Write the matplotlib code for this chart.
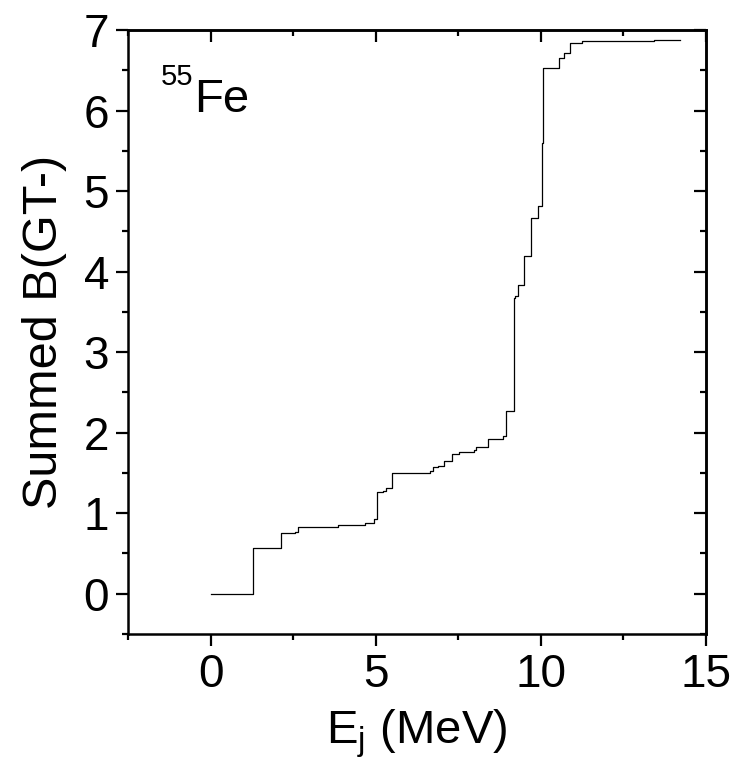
import matplotlib
matplotlib.use("Agg")
import matplotlib.pyplot as plt
from matplotlib.ticker import MultipleLocator

plt.rcParams['font.family'] = ['Liberation Sans', 'DejaVu Sans']

energy = [0, 1.27, 2.14, 2.56, 2.65, 3.85, 4.68, 4.96, 5.03, 5.21, 5.31, 5.48,
          5.85, 6.66, 6.75, 6.90, 7.07, 7.32, 7.52, 7.97, 8.05, 8.41, 8.87, 8.94,
          9.18, 9.23, 9.30, 9.50, 9.69, 9.91, 10.05, 10.08, 10.56, 10.69, 10.90,
          11.26, 11.72, 13.44, 14.23]
summed_bgt = [0, 0.57, 0.75, 0.76, 0.83, 0.85, 0.88, 0.93, 1.26, 1.28, 1.31, 1.495,
              1.50, 1.52, 1.57, 1.59, 1.65, 1.74, 1.76, 1.785, 1.82, 1.92, 1.96, 2.27,
              3.67, 3.70, 3.83, 4.20, 4.665, 4.81, 5.6, 6.53, 6.65, 6.71, 6.84,
              6.86, 6.87, 6.875, 6.875]

x_ticks = [0, 5, 10, 15]
y_ticks = [0, 1, 2, 3, 4, 5, 6, 7]

FS = 33

fig = plt.figure(figsize=(7.36, 7.73), dpi=100)
ax = fig.add_axes([0.174, 0.180, 0.785, 0.781])
ax.step(energy, summed_bgt, where='post', color='black', lw=0.9)

ax.set_xlim(-2.5, 15)
ax.set_ylim(-0.5, 7)
ax.set_xticks(x_ticks)
ax.set_yticks(y_ticks)
ax.xaxis.set_minor_locator(MultipleLocator(2.5))
ax.yaxis.set_minor_locator(MultipleLocator(0.5))

for s in ax.spines.values():
    s.set_linewidth(1.8)

ax.tick_params(which='both', direction='out', width=1.6, labelsize=FS, pad=5)
ax.tick_params(which='major', length=8.6)
ax.tick_params(which='minor', length=4.5)
# inward ticks on top/right
axt = ax.secondary_xaxis('top')
axt.set_xticks(x_ticks)
axt.xaxis.set_minor_locator(MultipleLocator(2.5))
axt.tick_params(which='both', direction='in', width=1.6, labeltop=False)
axt.tick_params(which='major', length=8.6)
axt.tick_params(which='minor', length=4.5)
axt.spines['top'].set_linewidth(1.8)
axr = ax.secondary_yaxis('right')
axr.set_yticks(y_ticks)
axr.yaxis.set_minor_locator(MultipleLocator(0.5))
axr.tick_params(which='both', direction='in', width=1.6, labelright=False)
axr.tick_params(which='major', length=8.6)
axr.tick_params(which='minor', length=4.5)
axr.spines['right'].set_linewidth(1.8)

ax.set_xlabel(r'E$_\mathregular{j}$ (MeV)', fontsize=34, labelpad=8)
ax.set_ylabel('Summed B(GT-)', fontsize=35, labelpad=12)

ax.text(0.057, 0.909, '55', transform=ax.transAxes, fontsize=21,
        ha='left', va='baseline')
ax.text(0.114, 0.864, 'Fe', transform=ax.transAxes, fontsize=34,
        ha='left', va='baseline')

fig.savefig('out.png', dpi=100)
